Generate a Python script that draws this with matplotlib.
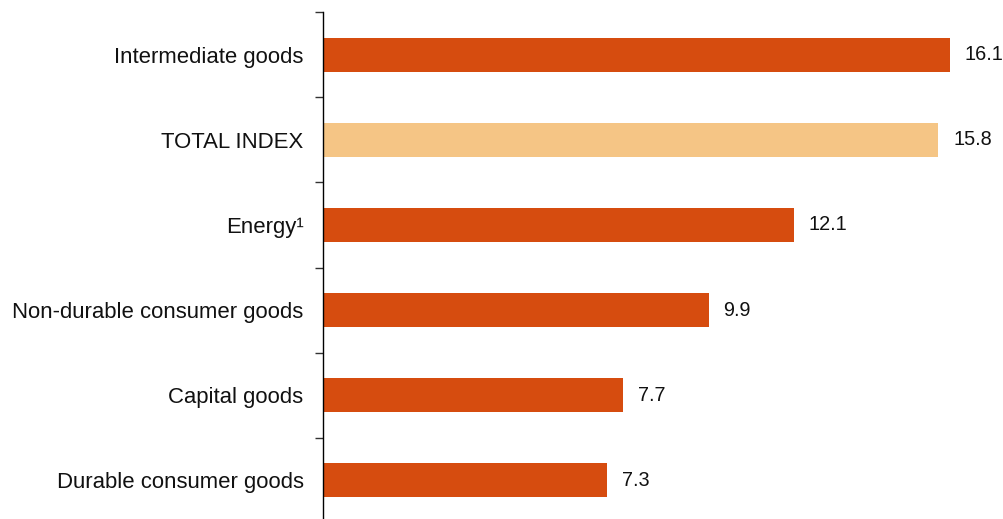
import matplotlib.pyplot as plt
import numpy as np

categories = ["Intermediate goods", "TOTAL INDEX", "Energy\u00b9",
              "Non-durable consumer goods", "Capital goods", "Durable consumer goods"]
values = [16.1, 15.8, 12.1, 9.9, 7.7, 7.3]
labels = ["16.1", "15.8", "12.1", "9.9", "7.7", "7.3"]

dark = "#D64C0F"
light = "#F5C585"
colors = [light if c == "TOTAL INDEX" else dark for c in categories]

plt.rcParams['font.family'] = ['Liberation Sans', 'DejaVu Sans']

fig = plt.figure(figsize=(10.04, 5.19), dpi=100)
ax = fig.add_axes([323 / 1004, -4 / 519, 662 / 1004, 511 / 519])

y = np.arange(len(categories))
ax.barh(y, values, height=0.4, color=colors)

# value labels just right of each bar
for yi, v, lab in zip(y, values, labels):
    ax.text(v + 0.38, yi, lab, va='center', ha='left', fontsize=14.3, color='#111111')

ax.set_ylim(len(categories) - 0.5, -0.5)
ax.set_xlim(0, 17)

ax.set_yticks(y)
ax.set_yticklabels(categories, fontsize=15.9, color='#111111')
ax.tick_params(axis='y', which='major', length=0, pad=14)
# separators between categories
ax.set_yticks(np.arange(-0.5, len(categories), 1.0), minor=True)
ax.tick_params(axis='y', which='minor', length=6, width=1, color='#333333')

ax.set_xticks([])
for s in ['top', 'right', 'bottom']:
    ax.spines[s].set_visible(False)
ax.spines['left'].set_linewidth(1)
ax.spines['left'].set_color('black')

fig.savefig('out.png', dpi=100)
